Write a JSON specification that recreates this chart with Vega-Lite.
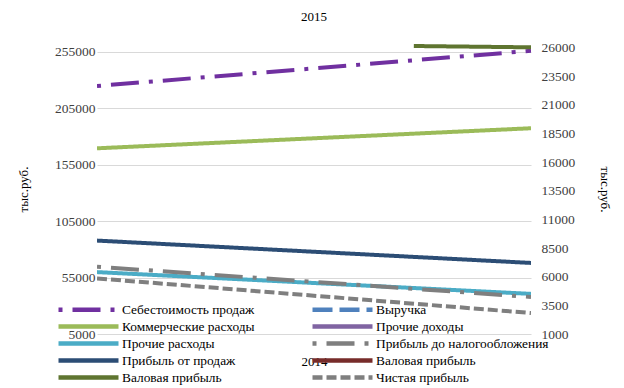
{
  "$schema": "https://vega.github.io/schema/vega-lite/v6.json",
  "autosize": {"type": "none"},
  "padding": {"left": 97, "top": 44, "right": 93, "bottom": 54},
  "width": 434,
  "height": 290,
  "background": "white",
  "title": {"text": "2015", "font": "Liberation Serif", "fontSize": 13, "fontWeight": "normal", "color": "#000000", "anchor": "middle", "offset": 16},
  "config": {
    "view": {"stroke": null},
    "axis": {"labelFont": "Liberation Serif", "labelFontSize": 13.5, "labelColor": "#404040", "titleFont": "Liberation Serif", "titleFontSize": 13, "titleFontWeight": "normal", "titleColor": "#000000", "ticks": false, "domain": false}
  },
  "data": {"values": [
    {"series": "Себестоимость продаж", "year": 2014, "value": 224800},
    {"series": "Себестоимость продаж", "year": 2015, "value": 256000},
    {"series": "Коммерческие расходы", "year": 2014, "value": 17200},
    {"series": "Коммерческие расходы", "year": 2015, "value": 18950},
    {"series": "Прочие расходы", "year": 2014, "value": 6400},
    {"series": "Прочие расходы", "year": 2015, "value": 4500},
    {"series": "Прибыль до налогообложения", "year": 2014, "value": 6870},
    {"series": "Прибыль до налогообложения", "year": 2015, "value": 4230},
    {"series": "Прибыль от продаж", "year": 2014, "value": 9150},
    {"series": "Прибыль от продаж", "year": 2015, "value": 7200},
    {"series": "Валовая прибыль ", "year": 2014.73, "value": 26125},
    {"series": "Валовая прибыль ", "year": 2015, "value": 26010},
    {"series": "Чистая прибыль", "year": 2014, "value": 5850},
    {"series": "Чистая прибыль", "year": 2015, "value": 2830}
  ]},
  "encoding": {
    "x": {"field": "year", "type": "quantitative", "scale": {"domain": [2014, 2015], "nice": false, "zero": false}, "axis": {"labels": false, "grid": false, "title": "2014", "titlePadding": 21}},
    "color": {"field": "series", "type": "nominal",
      "scale": {
        "domain": ["Себестоимость продаж", "Коммерческие расходы", "Прочие расходы", "Прибыль от продаж", "Валовая прибыль ", "Выручка", "Прочие доходы", "Прибыль до налогообложения", "Валовая прибыль", "Чистая прибыль"],
        "range": ["#7030A0", "#9BBB59", "#4BACC6", "#2C4D75", "#5F7530", "#4F81BD", "#8064A2", "#7F7F7F", "#772C2A", "#7F7F7F"]
      },
      "legend": {"title": null, "orient": "none", "legendX": -16, "legendY": 258, "columns": 2, "symbolType": "M-6,0H6", "symbolSize": 100, "symbolStrokeWidth": 4.5, "labelFont": "Liberation Serif", "labelFontSize": 13.4, "labelColor": "#000000", "labelOffset": 26, "rowPadding": -4, "columnPadding": 48, "labelLimit": 0, "padding": 0}
    },
    "strokeDash": {"field": "series", "type": "nominal",
      "scale": {
        "domain": ["Себестоимость продаж", "Коммерческие расходы", "Прочие расходы", "Прибыль от продаж", "Валовая прибыль ", "Выручка", "Прочие доходы", "Прибыль до налогообложения", "Валовая прибыль", "Чистая прибыль"],
        "range": [[4, 10, 28, 10], [1, 0], [1, 0], [1, 0], [1, 0], [20, 7], [1, 0], [4, 10, 28, 10], [1, 0], [10, 4]]
      },
      "legend": {"title": null}
    }
  },
  "layer": [
    {
      "transform": [{"filter": "datum.series === 'Себестоимость продаж'"}],
      "mark": {"type": "line", "strokeWidth": 4, "clip": true},
      "encoding": {
        "y": {"field": "value", "type": "quantitative", "scale": {"domain": [5000, 262000], "nice": false, "zero": false},
          "axis": {"orient": "left", "values": [5000, 55000, 105000, 155000, 205000, 255000], "format": "d", "labelPadding": 2, "grid": true, "gridColor": "#D9D9D9", "gridWidth": 1, "title": "тыс.руб.", "titlePadding": 24}}
      }
    },
    {
      "transform": [{"filter": "datum.series !== 'Себестоимость продаж'"}],
      "mark": {"type": "line", "strokeWidth": 4, "clip": true},
      "encoding": {
        "y": {"field": "value", "type": "quantitative", "scale": {"domain": [1000, 26300], "nice": false, "zero": false},
          "axis": {"orient": "right", "values": [1000, 3500, 6000, 8500, 11000, 13500, 16000, 18500, 21000, 23500, 26000], "format": "d", "labelPadding": 10, "grid": false, "title": "тыс.руб.", "titlePadding": 23}}
      }
    }
  ],
  "resolve": {"scale": {"y": "independent"}}
}
